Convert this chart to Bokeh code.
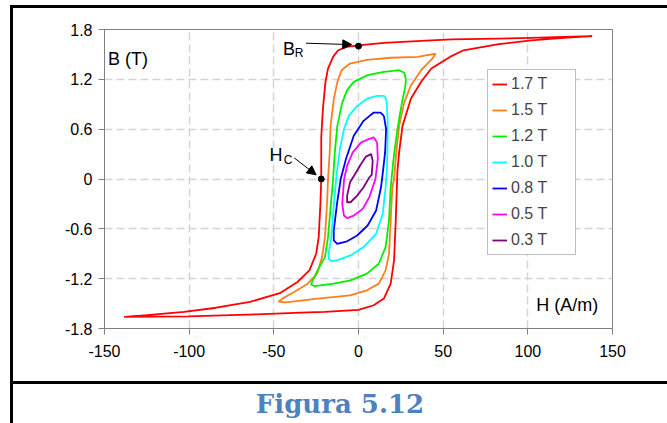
from bokeh.plotting import figure
from bokeh.models import (Legend, LegendItem, Label, Arrow, NormalHead, Div,
                          FixedTicker, Range1d)
from bokeh.layouts import column, row
from bokeh.embed import file_html
from bokeh.resources import INLINE

# ---------------- data ----------------
x_ticks = [-150, -100, -50, 0, 50, 100, 150]
x_tick_labels = ["-150", "-100", "-50", "0", "50", "100", "150"]
y_ticks = [-1.8, -1.2, -0.6, 0, 0.6, 1.2, 1.8]
y_tick_labels = ["-1.8", "-1.2", "-0.6", "0", "0.6", "1.2", "1.8"]

loop_names = ["1.7 T", "1.5 T", "1.2 T", "1.0 T", "0.8 T", "0.5 T", "0.3 T"]
loop_colors = ["#FF0000", "#FF7F1E", "#00F000", "#00FFFF", "#0000FF", "#FF00FF", "#800080"]

h_17 = [138, 121, 102, 82, 55, 40, 15, 0, -7, -12, -15, -18, -19.5, -21, -22, -22, -22.5, -23.5,
        -25, -29, -36, -46, -64, -84, -103, -123, -138,
        -100, -60, -34, -20, 0, 9, 15, 19, 21, 22, 23, 24, 26, 31, 37, 43, 54, 62, 82, 102, 121, 138]
b_17 = [1.72, 1.71, 1.70, 1.69, 1.68, 1.665, 1.64, 1.61, 1.59, 1.55, 1.47, 1.33, 1.17, 0.85, 0.5, 0,
        -0.3, -0.7, -0.9, -1.1, -1.24, -1.37, -1.48, -1.55, -1.60, -1.635, -1.66,
        -1.655, -1.63, -1.61, -1.60, -1.575, -1.52, -1.44, -1.26, -0.98, -0.5, 0.1, 0.32, 0.64,
        0.97, 1.17, 1.33, 1.47, 1.55, 1.62, 1.67, 1.70, 1.72]

h_15 = [45.6, 35, 19, 5, -5, -10, -12.5, -14.5, -16.5, -17, -18, -18.6, -19.8, -21.5, -24.4, -30,
        -38, -45, -47, -43, -24, -5, 5, 12, 16, 18, 19, 20, 21, 22.3, 24, 27, 31, 37, 43.6, 45.6]
b_15 = [1.51, 1.47, 1.46, 1.435, 1.39, 1.31, 1.17, 0.97, 0.64, 0.32, 0, -0.3, -0.7, -0.94, -1.14,
        -1.26, -1.36, -1.44, -1.475, -1.485, -1.44, -1.40, -1.34, -1.26, -1.10, -0.9, -0.5, -0.1,
        0, 0.32, 0.64, 0.92, 1.13, 1.31, 1.45, 1.51]

h_12 = [28, 27, 24, 15, 5.4, -2.8, -6.7, -9.6, -12.5, -14, -15, -16.3, -18, -19.8, -24.2, -27, -28,
        -26, -14.6, -4.7, 5, 12, 16, 18, 19, 19.5, 21, 23, 25.5, 27.5, 28]
b_12 = [1.2, 1.28, 1.31, 1.29, 1.25, 1.17, 1.07, 0.92, 0.64, 0.32, 0, -0.3, -0.7, -0.94, -1.10,
        -1.22, -1.27, -1.29, -1.26, -1.22, -1.14, -1.02, -0.82, -0.5, -0.1, 0, 0.3, 0.6, 0.9, 1.1, 1.2]

h_10 = [16, 15, 11, 5.4, -0.8, -5.7, -8.6, -11, -13, -14.5, -16, -17.5, -17.5, -16, -12.6, -4.7, 3,
        10.4, 14.3, 16, 16.8, 17.2, 17.2, 16.6, 16]
b_10 = [0.98, 1.0, 1.0, 0.97, 0.88, 0.76, 0.6, 0.36, 0.04, -0.3, -0.7, -0.88, -0.96, -0.99, -0.98,
        -0.92, -0.82, -0.66, -0.42, -0.1, 0.12, 0.44, 0.72, 0.93, 0.98]

h_08 = [15, 13, 9, 3, -2.8, -7.4, -10.5, -12.7, -14.6, -14.6, -12.6, -6.7, -0.8, 5.4, 10.4, 13.3,
        14.5, 15.7, 16.3, 15]
b_08 = [0.76, 0.80, 0.80, 0.70, 0.52, 0.24, 0, -0.3, -0.62, -0.74, -0.78, -0.75, -0.68, -0.56,
        -0.38, -0.1, 0.1, 0.32, 0.6, 0.76]

h_05 = [11, 9, 6, 1.5, -3.4, -6.7, -8.5, -9.6, -8.6, -6.7, -2.8, 2.5, 6.4, 10, 11.4, 11]
b_05 = [0.44, 0.50, 0.48, 0.44, 0.32, 0.16, 0, -0.3, -0.44, -0.47, -0.44, -0.36, -0.22, 0, 0.24, 0.44]

h_03 = [8.4, 7.4, 4.4, 1.5, -2, -5, -6.7, -6.7, -4.7, -0.8, 3, 6.4, 7.8, 8.4]
b_03 = [0.22, 0.30, 0.27, 0.18, 0.06, -0.04, -0.2, -0.28, -0.28, -0.2, -0.1, 0.02, 0.05, 0.22]

loops_h = [h_17, h_15, h_12, h_10, h_08, h_05, h_03]
loops_b = [b_17, b_15, b_12, b_10, b_08, b_05, b_03]

br_h, br_b = 0, 1.6      # remanence point B_R
hc_h, hc_b = -22, 0      # coercive point H_C

caption = "Figura 5.12"

# ---------------- layout sizes (page pixels) ----------------
PAGE_W, PAGE_H = 667, 423
GAP_LEFT, BORDER = 10, 3
TOP_GAP = 5
FIG_H = 373                 # from y=8 to y=381
CAP_H = PAGE_H - TOP_GAP - BORDER - FIG_H - BORDER   # 39
FIG_W = PAGE_W - GAP_LEFT - BORDER                   # 654

p = figure(width=FIG_W, height=FIG_H, output_backend="svg", toolbar_location=None,
           x_range=Range1d(-150, 150), y_range=Range1d(-1.8, 1.8),
           min_border_left=91, min_border_right=55, min_border_top=21, min_border_bottom=53)
p.margin = 0
p.background_fill_color = "white"
p.border_fill_color = "white"
p.outline_line_color = "#808080"
p.outline_line_width = 1

for ax, ticks, labels in ((p.xaxis[0], x_ticks, x_tick_labels), (p.yaxis[0], y_ticks, y_tick_labels)):
    ax.ticker = FixedTicker(ticks=ticks)
    ax.major_label_overrides = {t: l for t, l in zip(ticks, labels)}
    ax.axis_line_color = "#808080"
    ax.major_tick_line_color = "#808080"
    ax.major_tick_in = 0
    ax.major_tick_out = 6
    ax.minor_tick_line_color = None
    ax.major_label_text_font = "Liberation Sans"
    ax.major_label_text_font_size = "16px"
    ax.major_label_text_color = "black"
p.xaxis.major_label_standoff = 10
p.yaxis.major_label_standoff = 6

for g, ticks in ((p.xgrid[0], x_ticks), (p.ygrid[0], y_ticks)):
    g.ticker = FixedTicker(ticks=ticks)
    g.grid_line_color = "#D4D4D4"
    g.grid_line_dash = "8 4"
    g.grid_line_width = 1.5

items = []
for name, col, hh, bb in zip(loop_names, loop_colors, loops_h, loops_b):
    r = p.line(hh, bb, line_color=col, line_width=1.8, line_join="round")
    items.append(LegendItem(label=name, renderers=[r]))

legend = Legend(items=items, location=(383, 73), padding=4, spacing=6, margin=0,
                glyph_width=15, glyph_height=20, label_height=20, label_standoff=4,
                label_width=60, label_text_font="Liberation Sans", label_text_font_size="16px",
                border_line_color="#808080", border_line_width=1, background_fill_alpha=1)
p.add_layout(legend)

# points B_R and H_C
p.scatter([br_h, hc_h], [br_b, hc_b], size=6, color="black")

def lab(x, y, t, size):
    p.add_layout(Label(x=x, y=y, text=t, text_font="Liberation Sans", text_baseline="alphabetic",
                       text_font_size=size, text_color="black"))

lab(-148, 1.44, "B (T)", "18px")
lab(105, -1.523, "H (A/m)", "18px")
lab(-44.6, 1.568, "B", "18px")
lab(-37.7, 1.52, "R", "12px")
lab(-52.5, 0.283, "H", "18px")
lab(-44.2, 0.231, "C", "12px")

p.add_layout(Arrow(end=NormalHead(size=9, fill_color="black", line_color="black"),
                   x_start=-31, y_start=1.635, x_end=-4, y_end=1.618,
                   line_color="black", line_width=1))
p.add_layout(Arrow(end=NormalHead(size=9, fill_color="black", line_color="black"),
                   x_start=-38, y_start=0.255, x_end=-25, y_end=0.05,
                   line_color="black", line_width=1))

# ---------------- page frame (black rules) and caption ----------------
def blank(w, h):
    return Div(text="", width=w, height=h, margin=0, styles={"background-color": "white"})

def black(w, h):
    return Div(text="", width=w, height=h, margin=0, styles={"background-color": "black"})

cap = Div(text=caption, width=FIG_W, height=CAP_H, margin=0,
          styles={"color": "#4F81BD", "font-family": "DejaVu Serif", "font-weight": "bold",
                  "font-size": "26px", "line-height": "40px", "text-align": "center",
                  "background-color": "white"})

layout = column(
    blank(PAGE_W, TOP_GAP),
    row(blank(GAP_LEFT, BORDER), black(PAGE_W - GAP_LEFT, BORDER), spacing=0),
    row(blank(GAP_LEFT, FIG_H), black(BORDER, FIG_H), p, spacing=0),
    row(blank(GAP_LEFT, BORDER), black(PAGE_W - GAP_LEFT, BORDER), spacing=0),
    row(blank(GAP_LEFT, CAP_H), black(BORDER, CAP_H), cap, spacing=0),
    spacing=0)

open("out.html", "w").write(file_html(layout, INLINE))
